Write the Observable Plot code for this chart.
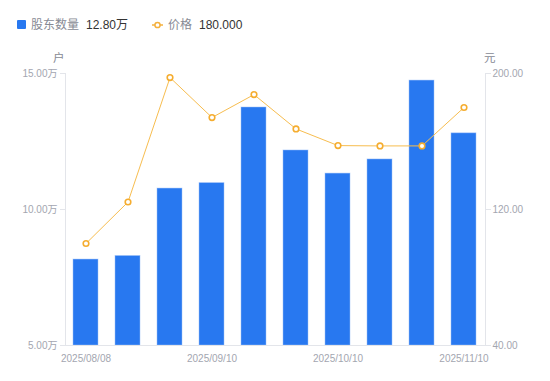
<!DOCTYPE html>
<html><head><meta charset="utf-8">
<script src="https://cdn.jsdelivr.net/npm/d3@7"></script>
<script src="https://cdn.jsdelivr.net/npm/@observablehq/plot@0.6"></script>
<style>
body{margin:0;background:#fff;font-family:"Liberation Sans","Noto Sans CJK SC",sans-serif;}
#wrap{position:relative;width:550px;height:381px;}
#legend{height:48px;position:relative;font-size:12px;}
.lg{position:absolute;top:17.5px;display:flex;align-items:center;white-space:nowrap;line-height:14px;}
.nm{color:#878a94;margin-right:7px;}
.vl{color:#333;}
.unit{position:absolute;top:49px;font-size:11.5px;color:#878a94;}
</style></head><body>
<div id="wrap">
<div id="legend">
  <div class="lg" style="left:17px"><span style="display:inline-block;width:9px;height:9px;background:#2878f0;border-radius:1px;margin-right:5px"></span><span class="nm">股东数量</span><span class="vl">12.80万</span></div>
  <div class="lg" style="left:152px"><svg width="11" height="10" style="margin-right:5px"><line x1="0" y1="5" x2="11" y2="5" stroke="#f5b03c" stroke-width="1.5"/><circle cx="5.5" cy="5" r="2.6" fill="#fff" stroke="#f5b03c" stroke-width="1.5"/></svg><span class="nm">价格</span><span class="vl">180.000</span></div>
</div>
<span class="unit" style="left:53px">户</span>
<span class="unit" style="left:484px">元</span>
<div id="chart"></div>
</div>
<script>
const dates = ["2025/08/08","2025/08/20","2025/08/29","2025/09/10","2025/09/19","2025/09/30","2025/10/10","2025/10/20","2025/10/31","2025/11/10"];
const holders = [8.16, 8.29, 10.77, 10.97, 13.75, 12.17, 11.32, 11.84, 14.74, 12.80]; // 万户
const prices = [100.0, 124.4, 197.6, 174.1, 187.6, 167.4, 157.6, 157.4, 157.4, 180.0]; // 元
const shownDates = ["2025/08/08","2025/09/10","2025/10/10","2025/11/10"];
const leftTicks = [5, 10, 15];
const rightTicks = [40, 120, 200];

const yMin = 5, yMax = 15, pMin = 40, pMax = 200;
const p2y = p => yMin + (p - pMin) / (pMax - pMin) * (yMax - yMin);

const data = dates.map((d, i) => ({date: d, h: holders[i], p: prices[i], py: p2y(prices[i])}));

const axisColor = "#e3e5ea";
const textColor = "#a3a6b0";

const chart = Plot.plot({
  width: 550,
  height: 333,
  marginTop: 25,
  marginBottom: 36,
  marginLeft: 65,
  marginRight: 65,
  style: {fontFamily: "'Liberation Sans','Noto Sans CJK SC',sans-serif", fontSize: "10px", color: textColor},
  x: {type: "band", domain: dates, paddingInner: 0.4, paddingOuter: 0.2, align: 0.5},
  y: {domain: [yMin, yMax]},
  marks: [
    Plot.frame({anchor: "left", stroke: axisColor}),
    Plot.frame({anchor: "right", stroke: axisColor}),
    Plot.barY(data, {x: "date", y1: yMin, y2: "h", fill: "#2878f0", stroke: "#9cc0f8", strokeWidth: 0.8, strokeOpacity: 0.6}),
    Plot.ruleY([yMin], {stroke: axisColor}),
    Plot.axisY({anchor: "left", ticks: leftTicks, tickFormat: d => d.toFixed(2) + "万", label: null, tickSize: 5, tickPadding: 3, stroke: axisColor, color: textColor}),
    Plot.axisY({anchor: "right", ticks: rightTicks.map(p2y), tickFormat: (d, i) => rightTicks[i].toFixed(2), label: null, tickSize: 5, tickPadding: 2, stroke: axisColor, color: textColor}),
    Plot.axisX({ticks: shownDates, tickSize: 0, tickPadding: 9, label: null, color: textColor}),
    Plot.line(data, {x: "date", y: "py", stroke: "#f7bd4f", strokeWidth: 1}),
    Plot.dot(data, {x: "date", y: "py", r: 2.8, fill: "#fff", stroke: "#f5ad30", strokeWidth: 1.6})
  ]
});
document.getElementById("chart").appendChild(chart);
</script>
</body></html>
